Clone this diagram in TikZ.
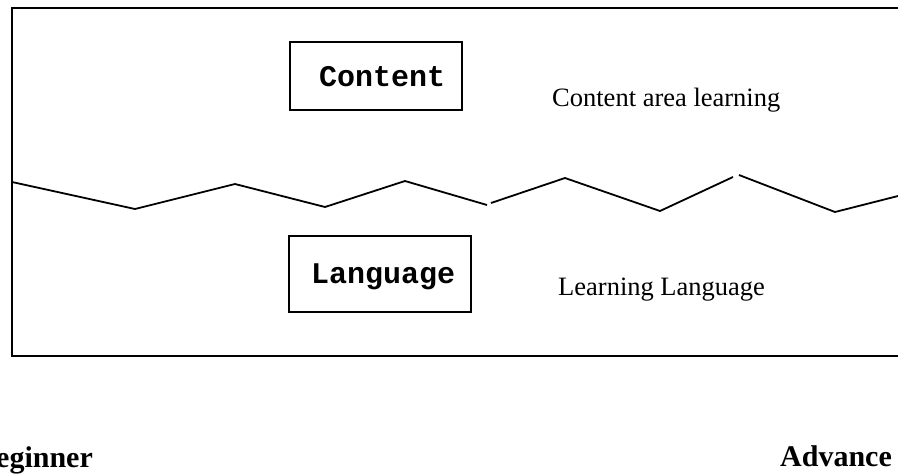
\documentclass[tikz,border=0pt]{standalone}
\usepackage{fontspec}
\setmainfont{Liberation Serif}
\newfontfamily\boxfont{Liberation Mono}
\begin{document}
\begin{tikzpicture}[x=1pt,y=-1pt,
  frame/.style={draw=black,line width=2.2pt},
  labelbox/.style={draw=black,line width=2.6pt,rectangle,inner sep=0pt},
  boxtext/.style={font=\boxfont\bfseries\fontsize{30}{32}\selectfont,anchor=base west,inner sep=0pt},
  sidetext/.style={font=\fontsize{26.5}{28}\selectfont,anchor=base west,inner sep=0pt},
  endtext/.style={font=\bfseries\fontsize{30}{32}\selectfont,anchor=base west,inner sep=0pt},
  zig/.style={draw=black,line width=1.8pt,line join=miter}]
\useasboundingbox (0,0) rectangle (898,474);
% outer frame (right side runs off the page)
\draw[frame] (912,8) -- (12,8) -- (12,356) -- (912,356);
% zigzag boundary
\draw[zig] (12,182) -- (135,209) -- (235,184) -- (325,207) -- (405,181) -- (487,205);
\draw[zig] (491,203) -- (565,178) -- (660,211) -- (733,177);
\draw[zig] (739,175) -- (835,212) -- (898,196) -- (910,193);
% boxes
\node[labelbox,minimum width=172pt,minimum height=68pt] (cbox) at (376,76) {};
\node[labelbox,minimum width=182pt,minimum height=76pt] (lbox) at (380,274) {};
\node[boxtext] (ctext) at (319,86) {Content};
\node[boxtext] (ltext) at (311,283) {Language};
% side texts
\node[sidetext] (carea) at (552,106) {Content area learning};
\node[sidetext] (llang) at (558,295) {Learning Language};
% bottom labels
\node[endtext] (beg) at (-4,467) {eginner};
\node[endtext] (adv) at (780,466) {Advance};
\end{tikzpicture}
\end{document}
